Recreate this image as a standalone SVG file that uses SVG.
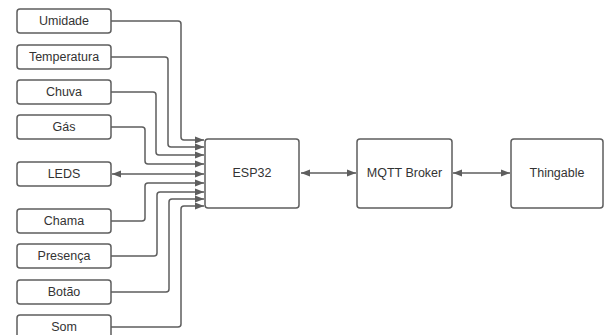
<svg xmlns="http://www.w3.org/2000/svg" width="605" height="335" viewBox="0 0 605 335">
<style>
.box{fill:#fff;stroke:#5e5e5e;stroke-width:1.5}
.lbl{font-family:"Liberation Sans",Arial,sans-serif;font-size:12.5px;fill:#333;text-anchor:middle;dominant-baseline:central}
.c{fill:none;stroke:#5e5e5e;stroke-width:1.5;stroke-linejoin:round}
</style>
<defs>
<marker id="ah" markerUnits="userSpaceOnUse" markerWidth="10" markerHeight="8" refX="9" refY="4" orient="auto-start-reverse">
<path d="M0,0.5 L9,4 L0,7.5 Z" fill="#5e5e5e"/>
</marker>
</defs>
<rect width="605" height="335" fill="#fff"/>
<g id="connectors">
<path class="c" d="M111,21 H178 Q181,21 181,24 V137 Q181,140 184,140 H204" marker-end="url(#ah)"/>
<path class="c" d="M111,57 H165 Q168,57 168,60 V144 Q168,147 171,147 H204" marker-end="url(#ah)"/>
<path class="c" d="M111,92 H153 Q156,92 156,95 V152 Q156,155 159,155 H204" marker-end="url(#ah)"/>
<path class="c" d="M111,127 H142 Q145,127 145,130 V161 Q145,164 148,164 H204" marker-end="url(#ah)"/>
<path class="c" d="M204,174 H112" marker-start="url(#ah)" marker-end="url(#ah)"/>
<path class="c" d="M111,221 H142 Q145,221 145,218 V186 Q145,183 148,183 H204" marker-end="url(#ah)"/>
<path class="c" d="M111,256 H154 Q157,256 157,253 V195 Q157,192 160,192 H204" marker-end="url(#ah)"/>
<path class="c" d="M111,292 H166 Q169,292 169,289 V202 Q169,199 172,199 H204" marker-end="url(#ah)"/>
<path class="c" d="M111,327 H178 Q181,327 181,324 V209 Q181,206 184,206 H204" marker-end="url(#ah)"/>
<path class="c" d="M301,173 H356" marker-start="url(#ah)" marker-end="url(#ah)"/>
<path class="c" d="M453,173 H510" marker-start="url(#ah)" marker-end="url(#ah)"/>
</g>
<g id="umidade"><rect class="box" x="17" y="9" width="94" height="24" rx="3"/><text class="lbl" x="64" y="21">Umidade</text></g>
<g id="temperatura"><rect class="box" x="17" y="45" width="94" height="24" rx="3"/><text class="lbl" x="64" y="57">Temperatura</text></g>
<g id="chuva"><rect class="box" x="17" y="80" width="94" height="24" rx="3"/><text class="lbl" x="64" y="92">Chuva</text></g>
<g id="gas"><rect class="box" x="17" y="115" width="94" height="24" rx="3"/><text class="lbl" x="64" y="127">Gás</text></g>
<g id="leds"><rect class="box" x="17" y="162" width="94" height="24" rx="3"/><text class="lbl" x="64" y="174">LEDS</text></g>
<g id="chama"><rect class="box" x="17" y="209" width="94" height="24" rx="3"/><text class="lbl" x="64" y="221">Chama</text></g>
<g id="presenca"><rect class="box" x="17" y="244" width="94" height="24" rx="3"/><text class="lbl" x="64" y="256">Presença</text></g>
<g id="botao"><rect class="box" x="17" y="280" width="94" height="24" rx="3"/><text class="lbl" x="64" y="292">Botão</text></g>
<g id="som"><rect class="box" x="17" y="315" width="94" height="24" rx="3"/><text class="lbl" x="64" y="327">Som</text></g>
<g id="esp32"><rect class="box" x="205" y="139" width="94" height="69" rx="3"/><text class="lbl" x="252" y="173">ESP32</text></g>
<g id="mqtt"><rect class="box" x="357" y="139" width="95" height="69" rx="3"/><text class="lbl" x="404.5" y="173">MQTT Broker</text></g>
<g id="thingable"><rect class="box" x="511" y="139" width="92" height="69" rx="3"/><text class="lbl" x="557" y="173">Thingable</text></g>
</svg>
